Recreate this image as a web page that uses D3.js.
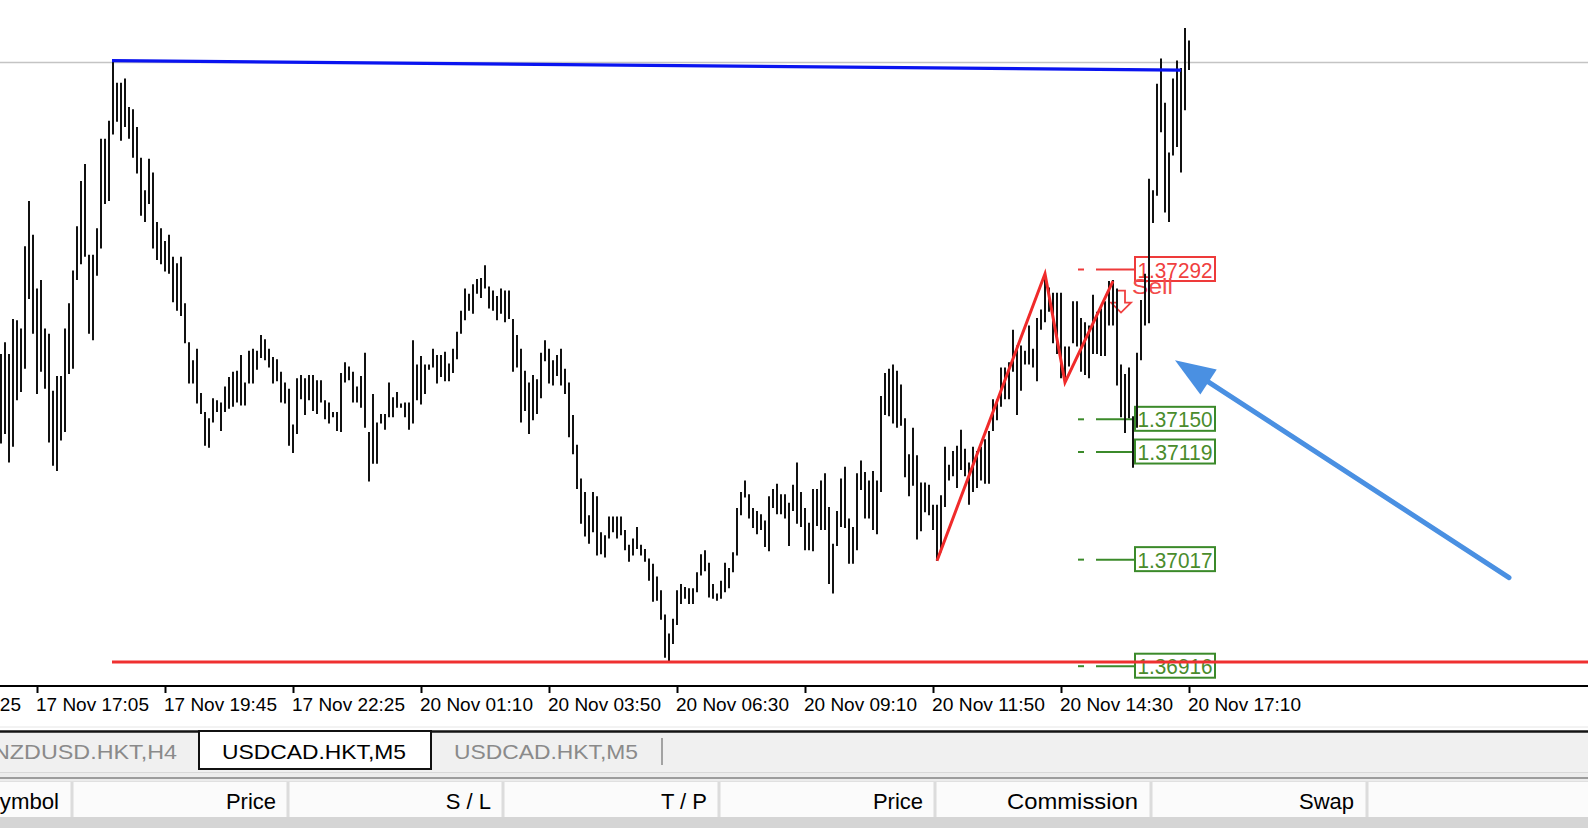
<!DOCTYPE html>
<html><head><meta charset="utf-8">
<script src="https://cdn.jsdelivr.net/npm/d3@7"></script>
<style>html,body{margin:0;padding:0;background:#fff;overflow:hidden}svg{display:block}</style>
</head><body><svg id="c" width="1588" height="828"></svg>
<script>
// ---------- data ----------
const highs = [
1.37212,1.37223,1.37212,1.37245,1.37244,1.37236,1.37314,1.37357,1.37325,1.37274,
1.37282,1.37236,1.37231,1.37177,1.37191,1.37191,1.37236,1.37260,1.37291,1.37333,
1.37376,1.37392,1.37306,1.37306,1.37331,1.37416,1.37416,1.37433,1.37490,1.37469,
1.37469,1.37473,1.37446,1.37444,1.37427,1.37398,1.37367,1.37397,1.37384,1.37337,
1.37331,1.37319,1.37325,1.37304,1.37298,1.37304,1.37260,1.37223,1.37206,1.37217,
1.37175,1.37157,1.37151,1.37170,1.37168,1.37166,1.37181,1.37190,1.37195,1.37196,
1.37211,1.37185,1.37215,1.37217,1.37215,1.37230,1.37226,1.37217,1.37209,1.37207,
1.37195,1.37185,1.37179,1.37145,1.37189,1.37192,1.37189,1.37192,1.37192,1.37187,
1.37187,1.37168,1.37166,1.37157,1.37157,1.37194,1.37204,1.37200,1.37195,1.37181,
1.37191,1.37213,1.37138,1.37174,1.37147,1.37155,1.37155,1.37185,1.37171,1.37176,
1.37165,1.37166,1.37166,1.37225,1.37202,1.37210,1.37202,1.37202,1.37217,1.37211,
1.37211,1.37214,1.37203,1.37217,1.37233,1.37253,1.37274,1.37269,1.37278,1.37283,
1.37284,1.37296,1.37276,1.37272,1.37267,1.37274,1.37272,1.37272,1.37245,1.37230,
1.37217,1.37196,1.37185,1.37192,1.37188,1.37213,1.37225,1.37217,1.37206,1.37211,
1.37217,1.37198,1.37185,1.37154,1.37126,1.37094,1.37081,1.37059,1.37081,1.37077,
1.37043,1.37040,1.37058,1.37058,1.37058,1.37058,1.37045,1.37031,1.37037,1.37048,
1.37031,1.37027,1.37018,1.37013,1.37001,1.36988,1.36965,1.36947,1.36961,1.36988,
1.36994,1.36991,1.36990,1.36990,1.37005,1.37022,1.37026,1.37014,1.36994,1.36985,
1.36997,1.37014,1.37009,1.37024,1.37066,1.37081,1.37092,1.37079,1.37066,1.37063,
1.37060,1.37054,1.37077,1.37084,1.37089,1.37079,1.37079,1.37071,1.37088,1.37109,
1.37081,1.37066,1.37052,1.37084,1.37084,1.37092,1.37099,1.37067,1.37032,1.37063,
1.37094,1.37105,1.37056,1.37048,1.37099,1.37111,1.37100,1.37092,1.37101,1.37092,
1.37172,1.37194,1.37198,1.37202,1.37196,1.37183,1.37151,1.37117,1.37142,1.37116,
1.37090,1.37090,1.37088,1.37069,1.37069,1.37078,1.37124,1.37107,1.37120,1.37125,
1.37140,1.37122,1.37109,1.37124,1.37120,1.37124,1.37131,1.37139,1.37169,1.37169,
1.37199,1.37199,1.37204,1.37235,1.37220,1.37220,1.37215,1.37239,1.37217,1.37246,
1.37254,1.37288,1.37275,1.37270,1.37270,1.37270,1.37219,1.37219,1.37262,1.37262,
1.37246,1.37242,1.37239,1.37268,1.37252,1.37255,1.37262,1.37281,1.37282,1.37274,
1.37202,1.37193,1.37199,1.37153,1.37213,1.37263,1.37288,1.37378,1.37367,1.37468,
1.37492,1.37450,1.37403,1.37473,1.37490,1.37483,1.37521,1.37509];
const lows = [
1.37127,1.37136,1.37109,1.37124,1.37168,1.37176,1.37198,1.37264,1.37231,1.37174,
1.37195,1.37179,1.37128,1.37106,1.37101,1.37130,1.37138,1.37193,1.37198,1.37282,
1.37297,1.37304,1.37231,1.37225,1.37286,1.37312,1.37354,1.37357,1.37420,1.37432,
1.37414,1.37427,1.37416,1.37398,1.37383,1.37343,1.37337,1.37354,1.37312,1.37301,
1.37297,1.37290,1.37288,1.37261,1.37253,1.37248,1.37222,1.37184,1.37184,1.37165,
1.37155,1.37125,1.37123,1.37147,1.37157,1.37139,1.37157,1.37160,1.37162,1.37166,
1.37163,1.37163,1.37184,1.37184,1.37197,1.37208,1.37206,1.37199,1.37184,1.37186,
1.37166,1.37165,1.37125,1.37118,1.37136,1.37169,1.37154,1.37168,1.37158,1.37155,
1.37166,1.37150,1.37146,1.37152,1.37139,1.37138,1.37185,1.37187,1.37166,1.37166,
1.37161,1.37142,1.37091,1.37108,1.37108,1.37146,1.37140,1.37152,1.37152,1.37161,
1.37161,1.37152,1.37140,1.37146,1.37168,1.37164,1.37174,1.37197,1.37199,1.37184,
1.37190,1.37186,1.37186,1.37194,1.37207,1.37231,1.37244,1.37253,1.37250,1.37269,
1.37265,1.37274,1.37255,1.37253,1.37244,1.37250,1.37242,1.37245,1.37195,1.37199,
1.37147,1.37158,1.37136,1.37149,1.37155,1.37170,1.37205,1.37184,1.37182,1.37191,
1.37182,1.37174,1.37133,1.37117,1.37084,1.37051,1.37039,1.37032,1.37043,1.37021,
1.37022,1.37019,1.37037,1.37043,1.37037,1.37040,1.37026,1.37015,1.37021,1.37027,
1.37021,1.37015,1.36997,1.36977,1.36978,1.36960,1.36924,1.36920,1.36937,1.36955,
1.36975,1.36980,1.36975,1.36975,1.36986,1.37002,1.37006,1.36981,1.36980,1.36978,
1.36980,1.36986,1.36990,1.37005,1.37021,1.37059,1.37076,1.37056,1.37047,1.37041,
1.37045,1.37029,1.37025,1.37066,1.37060,1.37060,1.37056,1.37030,1.37063,1.37051,
1.37048,1.37026,1.37026,1.37025,1.37049,1.37045,1.37045,1.36994,1.36985,1.37030,
1.37048,1.37047,1.37013,1.37013,1.37026,1.37083,1.37056,1.37056,1.37045,1.37041,
1.37081,1.37154,1.37153,1.37146,1.37142,1.37144,1.37095,1.37077,1.37087,1.37036,
1.37044,1.37062,1.37059,1.37045,1.37016,1.37024,1.37067,1.37092,1.37096,1.37085,
1.37102,1.37096,1.37069,1.37081,1.37085,1.37092,1.37089,1.37089,1.37139,1.37149,
1.37162,1.37169,1.37169,1.37195,1.37154,1.37177,1.37202,1.37202,1.37199,1.37186,
1.37235,1.37242,1.37252,1.37222,1.37212,1.37189,1.37185,1.37200,1.37222,1.37219,
1.37195,1.37192,1.37189,1.37212,1.37212,1.37210,1.37210,1.37239,1.37239,1.37182,
1.37152,1.37137,1.37151,1.37104,1.37142,1.37206,1.37239,1.37241,1.37336,1.37362,
1.37422,1.37346,1.37337,1.37400,1.37408,1.37384,1.37443,1.37481];

const tickBars = [-23, 9, 41, 73, 105, 137, 169, 201, 233, 265, 297];
const tickLabels = ["17 Nov 14:25","17 Nov 17:05","17 Nov 19:45","17 Nov 22:25","20 Nov 01:10",
  "20 Nov 03:50","20 Nov 06:30","20 Nov 09:10","20 Nov 11:50","20 Nov 14:30","20 Nov 17:10"];

const levelPrices = [1.37292, 1.37150, 1.37119, 1.37017, 1.36916];
const levelTypes  = ["sell", "buy", "buy", "buy", "buy"];

const zigzagBars   = [234, 261, 266, 278];
const zigzagPrices = [1.37016, 1.37288, 1.37185, 1.37281];

const trendBars   = [28, 295];
const trendPrices = [1.37490, 1.37481];
const supportBar = 28;
const supportPrice = 1.36920;
const bidPrice = 1.37489;

const arrowBars   = [377, 293.5];
const arrowPrices = [1.37000, 1.37206];
const sellSignalBar = 280;
const sellSignalPrice = 1.37272;
const sellLabel = "Sell";

const tabNames = ["NZDUSD.HKT,H4", "USDCAD.HKT,M5", "USDCAD.HKT,M5"];
const activeTab = 1;
const headerCols = ["Symbol", "Price", "S / L", "T / P", "Price", "Commission", "Swap"];

// ---------- layout ----------
const W = 1588, H = 828;
const axisY = 686;
const svg = d3.select("#c");
const FONT = "'Liberation Sans', Arial, sans-serif";

const x = d3.scaleLinear().domain([0, 297]).range([1, 1189]);
const y = d3.scaleLinear().domain([1.36916, 1.37292]).range([666.2, 269.5]);

svg.append("rect").attr("width", W).attr("height", H).attr("fill", "#fff");

// bid line
svg.append("line").attr("x1", 0).attr("x2", W)
  .attr("y1", Math.round(y(bidPrice)) + 0.5).attr("y2", Math.round(y(bidPrice)) + 0.5)
  .attr("stroke", "#c4c4c4").attr("stroke-width", 1.5);

// level labels (behind bars)
const colGreen = "#3b8a2a", colRed = "#ee3a3a";
levelPrices.forEach((p, i) => {
  const c = levelTypes[i] === "sell" ? colRed : colGreen;
  const ly = y(p);
  const g = svg.append("g");
  g.append("line").attr("x1", 1078).attr("x2", 1084).attr("y1", ly).attr("y2", ly).attr("stroke", c).attr("stroke-width", 2);
  g.append("line").attr("x1", 1096).attr("x2", 1135).attr("y1", ly).attr("y2", ly).attr("stroke", c).attr("stroke-width", 2);
  g.append("rect").attr("x", 1135).attr("y", ly - 12.5).attr("width", 80).attr("height", 24)
    .attr("fill", "none").attr("stroke", c).attr("stroke-width", 2);
  g.append("text").attr("x", 1137.5).attr("y", ly + 8).attr("font-family", FONT).attr("font-size", 21.5)
    .attr("textLength", 75).attr("lengthAdjust", "spacingAndGlyphs")
    .attr("fill", levelTypes[i] === "sell" ? "#f04040" : "#4a8c2c").text(p.toFixed(5));
});

// Sell text + arrow
svg.append("text").attr("x", 1132).attr("y", 294).attr("font-family", FONT).attr("font-size", 22)
  .attr("textLength", 41).attr("lengthAdjust", "spacingAndGlyphs").attr("fill", "#f24a4a").text(sellLabel);
{
  const cx = x(sellSignalBar), ty = y(sellSignalPrice);
  const pts = [[cx-4,ty],[cx+4,ty],[cx+4,ty+12],[cx+10,ty+12],[cx,ty+22],[cx-10,ty+12],[cx-4,ty+12]];
  svg.append("path").attr("d", d3.line()(pts) + "Z").attr("fill", "none").attr("stroke", "#f04040").attr("stroke-width", 1.8);
}

// bars
svg.append("g").selectAll("line").data(highs).join("line")
  .attr("x1", (d, i) => x(i)).attr("x2", (d, i) => x(i))
  .attr("y1", d => y(d)).attr("y2", (d, i) => y(lows[i]))
  .attr("stroke", "#111").attr("stroke-width", 2);

// trend line (blue)
svg.append("line").attr("x1", x(trendBars[0]) - 1).attr("x2", x(trendBars[1]))
  .attr("y1", y(trendPrices[0])).attr("y2", y(trendPrices[1]))
  .attr("stroke", "#0a14f0").attr("stroke-width", 3.2);

// support line (red)
svg.append("line").attr("x1", x(supportBar) - 1).attr("x2", W)
  .attr("y1", y(supportPrice)).attr("y2", y(supportPrice))
  .attr("stroke", "#ef3030").attr("stroke-width", 3.2);

// zigzag
svg.append("path")
  .attr("d", d3.line()(zigzagBars.map((b, i) => [x(b), y(zigzagPrices[i])])))
  .attr("fill", "none").attr("stroke", "#f02a2a").attr("stroke-width", 3).attr("stroke-linejoin", "miter");

// blue annotation arrow
{
  const x0 = x(arrowBars[0]), y0 = y(arrowPrices[0]);
  const x1 = x(arrowBars[1]), y1 = y(arrowPrices[1]);
  const ang = Math.atan2(y1 - y0, x1 - x0);
  const hl = 40, hw = 15;
  const bx = x1 - hl * Math.cos(ang), by = y1 - hl * Math.sin(ang);
  svg.append("line").attr("x1", x0).attr("y1", y0).attr("x2", bx + 4 * Math.cos(ang)).attr("y2", by + 4 * Math.sin(ang))
    .attr("stroke", "#4a90e2").attr("stroke-width", 5).attr("stroke-linecap", "round");
  const pts = [[x1, y1], [bx - hw * Math.sin(ang), by + hw * Math.cos(ang)], [bx + hw * Math.sin(ang), by - hw * Math.cos(ang)]];
  svg.append("path").attr("d", d3.line()(pts) + "Z").attr("fill", "#4a90e2");
}

// x axis
const axis = d3.axisBottom(x).tickValues(tickBars).tickFormat((d, i) => tickLabels[i]).tickSize(7).tickPadding(0);
const ag = svg.append("g").attr("transform", `translate(0,${axisY})`).call(axis);
ag.select(".domain").remove();
ag.selectAll(".tick line").attr("stroke", "#000").attr("stroke-width", 2);
ag.selectAll(".tick text").attr("text-anchor", "start").attr("dx", -1.5).attr("y", 25).attr("dy", 0)
  .attr("font-family", FONT).attr("font-size", 18.5).attr("fill", "#000")
  .attr("textLength", 113).attr("lengthAdjust", "spacingAndGlyphs");
svg.append("line").attr("x1", 0).attr("x2", W).attr("y1", axisY).attr("y2", axisY).attr("stroke", "#000").attr("stroke-width", 2);

// ---------- bottom UI (tabs + header) ----------
svg.append("line").attr("x1", 0).attr("x2", W).attr("y1", 727).attr("y2", 727).attr("stroke", "#e6e6e6").attr("stroke-width", 1);
svg.append("rect").attr("x", 0).attr("y", 732).attr("width", W).attr("height", 40).attr("fill", "#f0f0f0");
svg.append("line").attr("x1", 0).attr("x2", W).attr("y1", 731.5).attr("y2", 731.5).attr("stroke", "#141414").attr("stroke-width", 2.5);
// active tab
svg.append("rect").attr("x", 199).attr("y", 731).attr("width", 232).attr("height", 38)
  .attr("fill", "#fff").attr("stroke", "#111").attr("stroke-width", 2);
const tabEnds = [177, 406, 638];
tabNames.forEach((t, i) => {
  svg.append("text").attr("x", tabEnds[i]).attr("y", 759).attr("text-anchor", "end")
    .attr("font-family", FONT).attr("font-size", 21).attr("textLength", 184).attr("lengthAdjust", "spacingAndGlyphs")
    .attr("fill", i === activeTab ? "#000" : "#8a8a8a").text(t);
});
svg.append("line").attr("x1", 662).attr("x2", 662).attr("y1", 738).attr("y2", 765).attr("stroke", "#8a8a8a").attr("stroke-width", 1.5);

svg.append("rect").attr("x", 0).attr("y", 772).attr("width", W).attr("height", 10).attr("fill", "#ececec");
svg.append("line").attr("x1", 0).attr("x2", W).attr("y1", 772.5).attr("y2", 772.5).attr("stroke", "#d8d8d8");
svg.append("line").attr("x1", 0).attr("x2", W).attr("y1", 778).attr("y2", 778).attr("stroke", "#9c9c9c").attr("stroke-width", 2);
svg.append("rect").attr("x", 0).attr("y", 781).attr("width", W).attr("height", 36).attr("fill", "#fbfbfb");
svg.append("line").attr("x1", 0).attr("x2", W).attr("y1", 781.5).attr("y2", 781.5).attr("stroke", "#e0e0e0");
svg.append("rect").attr("x", 0).attr("y", 817).attr("width", W).attr("height", 11).attr("fill", "#d5d5d5");

const colSeps = [72, 288, 503, 719, 935, 1151, 1367];
colSeps.forEach(cx => {
  svg.append("rect").attr("x", cx - 1.5).attr("y", 782).attr("width", 3).attr("height", 35).attr("fill", "#dcdcdc");
});
const colEnds = [59, 276, 491, 707, 923, 1138, 1354];
headerCols.forEach((t, i) => {
  const tx = svg.append("text").attr("x", colEnds[i]).attr("y", 809).attr("text-anchor", "end")
    .attr("font-family", FONT).attr("font-size", 22).attr("fill", "#000").text(t);
  if (t === "Commission") tx.attr("textLength", 131).attr("lengthAdjust", "spacingAndGlyphs");
  if (t === "Symbol") tx.attr("textLength", 74).attr("lengthAdjust", "spacingAndGlyphs");
});
</script></body></html>
